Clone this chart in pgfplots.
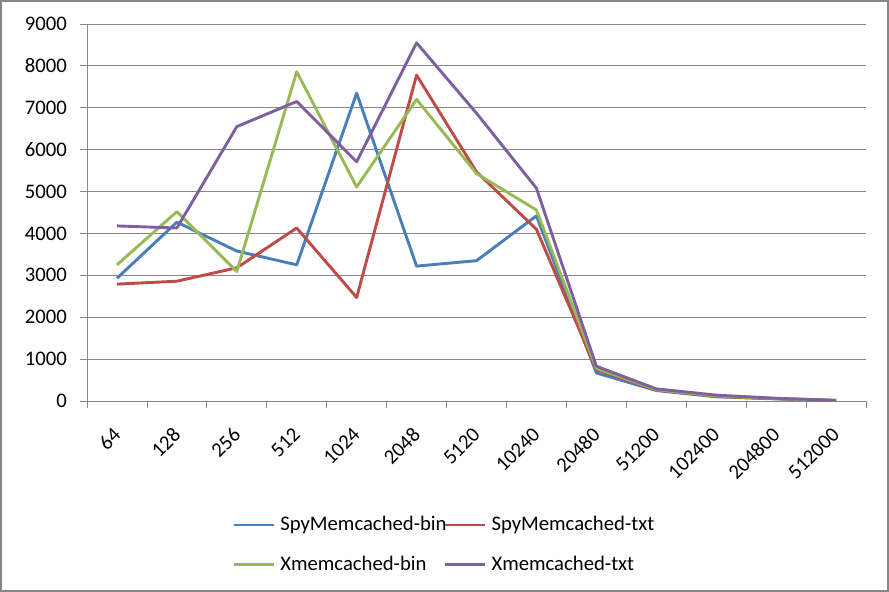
\documentclass[border=0pt]{standalone}
\usepackage{fontspec}
\setmainfont{Carlito}
\usepackage{pgfplots}
\pgfplotsset{compat=1.18}
\definecolor{cblue}{HTML}{4A7EBB}
\definecolor{cred}{HTML}{BE4B48}
\definecolor{cgreen}{HTML}{98B954}
\definecolor{cpurple}{HTML}{7D60A0}
\definecolor{cgrid}{HTML}{868686}
\begin{document}
\fontsize{20.7bp}{24bp}\selectfont
\begin{tikzpicture}
\begin{axis}[
  name=ax, at={(0,0)}, anchor=south west,
  scale only axis, width=779bp, height=377bp,
  xmin=-0.5, xmax=12.5, ymin=0, ymax=9000,
  axis x line*=bottom, axis y line*=left,
  axis line style={-, draw=cgrid, line width=0.8bp},
  xtick={-0.5,0.5,1.5,2.5,3.5,4.5,5.5,6.5,7.5,8.5,9.5,10.5,11.5,12.5},
  xticklabels={,,,,,,,,,,,,,,},
  extra x ticks={0,1,2,3,4,5,6,7,8,9,10,11,12},
  extra x tick labels={64,128,256,512,1024,2048,5120,10240,20480,51200,102400,204800,512000},
  extra x tick style={major tick length=0pt,
     x tick label style={xshift=-5bp, rotate=45, anchor=north east, inner sep=0pt}},
  xticklabel shift=25bp,
  ytick={0,1000,...,9000},
  scaled y ticks=false,
  yticklabel style={/pgf/number format/fixed, /pgf/number format/1000 sep={}, /pgf/number format/assume math mode=true},
  yticklabel shift=6bp,
  tick align=outside, major tick length=7bp,
  tick style={draw=cgrid, line width=0.8bp},
  ymajorgrids, grid style={draw=cgrid, line width=0.8bp},
  every tick label/.append style={font=\fontsize{20.7bp}{24bp}\selectfont},
  legend columns=2,
  legend style={at={(axis description cs:0.1864,-0.30)}, anchor=north west, draw=none, fill=none,
     font=\fontsize{20.7bp}{24bp}\selectfont, column sep=3bp, row sep=18bp, inner sep=0pt,
     /tikz/every even column/.append style={column sep=-5bp}},
  legend cell align=left,
  legend image code/.code={\draw[#1] (-2bp,0bp) -- (38bp,0bp);},
  every axis plot/.append style={line width=2.9bp, line join=round, mark=none},
]
\addplot[cblue] coordinates {(0,2930) (1,4270) (2,3580) (3,3250) (4,7350) (5,3220) (6,3350) (7,4420) (8,670) (9,250) (10,100) (11,50) (12,10)};
\addlegendentry{SpyMemcached-bin}
\addplot[cred] coordinates {(0,2790) (1,2860) (2,3180) (3,4130) (4,2470) (5,7780) (6,5470) (7,4100) (8,750) (9,260) (10,110) (11,55) (12,12)};
\addlegendentry{SpyMemcached-txt}
\addplot[cgreen] coordinates {(0,3250) (1,4520) (2,3090) (3,7860) (4,5110) (5,7200) (6,5430) (7,4560) (8,780) (9,270) (10,120) (11,60) (12,14)};
\addlegendentry{Xmemcached-bin}
\addplot[cpurple] coordinates {(0,4180) (1,4130) (2,6550) (3,7150) (4,5710) (5,8550) (6,6870) (7,5080) (8,830) (9,290) (10,140) (11,65) (12,16)};
\addlegendentry{Xmemcached-txt}
\end{axis}
\draw[cgrid, line width=2bp] ([shift={(-86bp,-190bp)}]ax.south west) rectangle ([shift={(22bp,23bp)}]ax.north east);
\path[use as bounding box] ([shift={(-87bp,-191bp)}]ax.south west) rectangle ([shift={(23bp,24bp)}]ax.north east);
\end{tikzpicture}
\end{document}
